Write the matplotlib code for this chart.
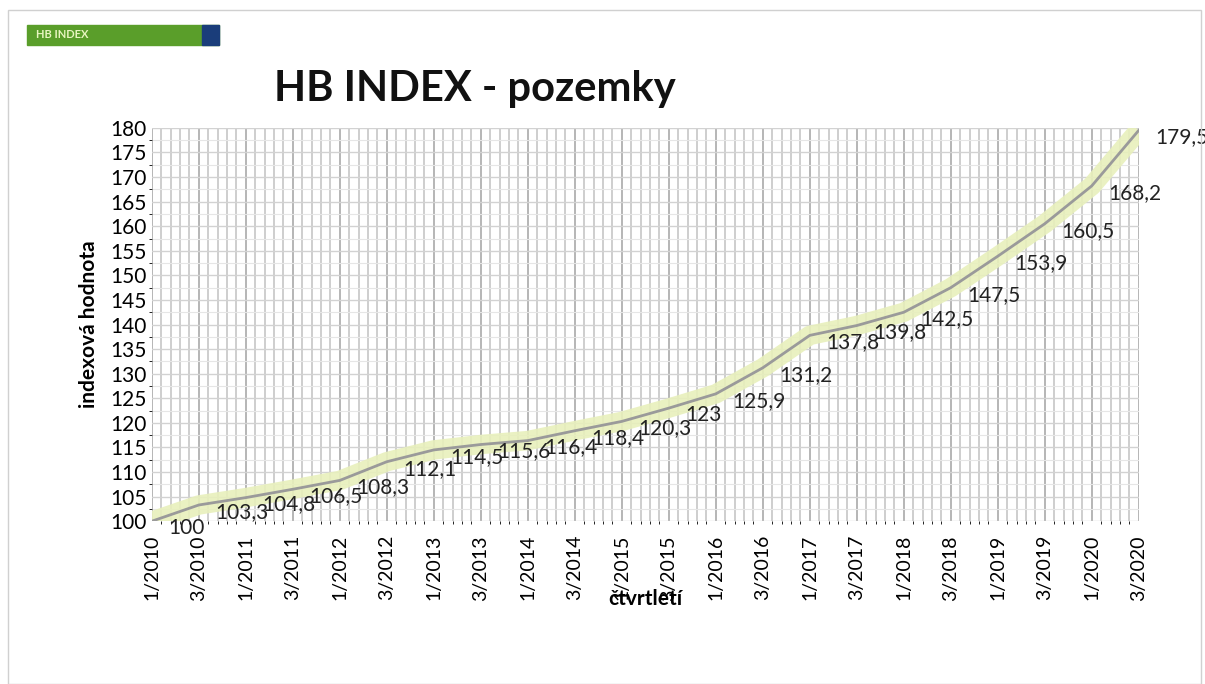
import matplotlib.pyplot as plt
from matplotlib.patches import Rectangle
from matplotlib.ticker import MultipleLocator

plt.rcParams['font.family'] = ['Lato', 'DejaVu Sans']

# pololetni hodnoty HB indexu
periods = ['1/2010', '3/2010', '1/2011', '3/2011', '1/2012', '3/2012', '1/2013', '3/2013',
           '1/2014', '3/2014', '1/2015', '3/2015', '1/2016', '3/2016', '1/2017', '3/2017',
           '1/2018', '3/2018', '1/2019', '3/2019', '1/2020', '3/2020']
values = [100, 103.3, 104.8, 106.5, 108.3, 112.1, 114.5, 115.6, 116.4, 118.4, 120.3,
          123, 125.9, 131.2, 137.8, 139.8, 142.5, 147.5, 153.9, 160.5, 168.2, 179.5]


def fmt(v):
    s = ('%g' % v)
    return s.replace('.', ',')


fig = plt.figure(figsize=(12.05, 6.84), dpi=100)
ax = fig.add_axes([0.126, 0.238, 0.819, 0.575])

x = list(range(len(values)))
# svetle zeleny pas pod hlavni carou
ax.plot(x, values, color='#e8f0bc', linewidth=14, alpha=0.9, solid_capstyle='butt', zorder=2)
ax.plot(x, values, color='#9a9a9a', linewidth=2, zorder=3)

for xi, v in zip(x, values):
    ax.annotate(fmt(v), (xi, v), xytext=(12, -5), textcoords='offset points',
                fontsize=15, color='#222222', va='center', ha='left', zorder=4,
                annotation_clip=False)

ax.set_xlim(0, len(values) - 1)
ax.set_ylim(100, 180)
ax.set_xticks(x)
ax.set_xticklabels(periods, rotation=90, fontsize=14)
ax.set_yticks(range(100, 181, 5))
ax.tick_params(axis='y', labelsize=15, length=0, pad=4)
ax.tick_params(axis='x', length=0, pad=10)

ax.xaxis.set_minor_locator(MultipleLocator(1 / 5))
ax.yaxis.set_minor_locator(MultipleLocator(2.5))
ax.grid(which='major', axis='x', color='#b5b5b5', linewidth=1.4)
ax.grid(which='minor', axis='x', color='#c6c6c6', linewidth=1.2)
ax.grid(which='major', axis='y', color='#d2d2d2', linewidth=1.0)
ax.grid(which='minor', axis='y', color='#e6e6e6', linewidth=0.8)
ax.set_axisbelow(True)
for s in ax.spines.values():
    s.set_visible(False)

ax.set_ylabel('indexová hodnota', fontsize=15, fontweight='bold', labelpad=8)
ax.set_xlabel('čtvrtletí', fontsize=15, fontweight='bold', labelpad=-8)

fig.text(0.394, 0.87, 'HB INDEX - pozemky', fontsize=30, fontweight='bold',
         ha='center', va='center', color='#111111')

# logo vlevo nahore
fig.patches.append(Rectangle((0.022, 0.934), 0.16, 0.03, transform=fig.transFigure,
                             color='#5a9e2a', zorder=1))
fig.patches.append(Rectangle((0.168, 0.934), 0.014, 0.03, transform=fig.transFigure,
                             color='#1a3d7a', zorder=2))
fig.text(0.03, 0.949, 'HB INDEX', fontsize=8, color='#e8f5c0', va='center',
         fontweight='bold')

# tenky ramecek
fig.patches.append(Rectangle((0.007, 0.0), 0.99, 0.985, transform=fig.transFigure,
                             fill=False, edgecolor='#d0d0d0', linewidth=1))

fig.savefig('out.png', dpi=100)
